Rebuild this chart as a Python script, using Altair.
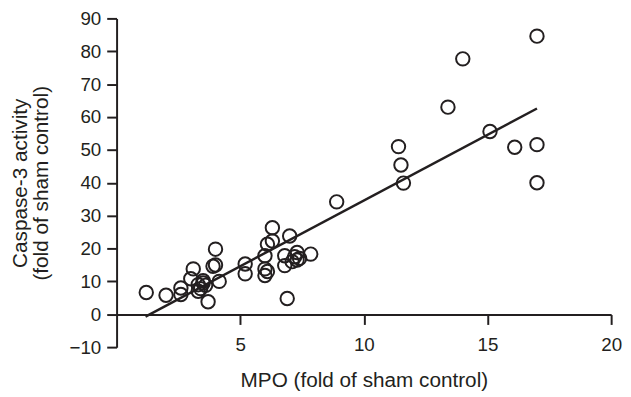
import altair as alt
import pandas as pd

# MPO (fold of sham control)
mpo = [1.2, 2.0, 2.6, 2.6, 3.0, 3.1, 3.3, 3.4, 3.5, 3.5, 3.6, 3.7, 3.9, 4.0, 4.0, 4.15, 3.3,
       5.2, 5.2, 6.0, 6.0, 6.0, 6.1, 6.3, 6.3, 6.1, 6.8, 6.8, 6.9, 7.0, 7.1, 7.2, 7.3, 7.3, 7.4, 7.85,
       8.9, 11.4, 11.5, 11.6, 13.4, 14.0, 15.1, 16.1, 17.0, 17.0, 17.0]
# Caspase-3 activity (fold of sham control)
casp = [6.6, 5.8, 8.0, 6.0, 10.8, 13.8, 9.0, 7.8, 9.5, 10.2, 8.8, 3.8, 14.6, 15.0, 19.8, 10.0, 7.0,
        15.3, 12.3, 17.8, 13.8, 11.8, 21.3, 22.3, 26.3, 13.0, 17.8, 14.8, 4.8, 23.8, 16.0, 17.5, 16.5, 18.8, 17.0, 18.3,
        34.2, 51.0, 45.4, 39.9, 63.0, 77.7, 55.6, 50.8, 84.6, 51.6, 40.0]

# regression line end points
line_x = [1.17, 17.0]
line_y = [-0.7, 62.6]

df = pd.concat([
    pd.DataFrame({"mpo": mpo, "casp": casp, "kind": "point"}),
    pd.DataFrame({"mpo": line_x, "casp": line_y, "kind": "fit"}),
], ignore_index=True)

INK = "#231f20"
FONT = "Liberation Sans"

xs = alt.Scale(domain=[0, 20], nice=False, zero=False)
ys = alt.Scale(domain=[-10, 90], nice=False, zero=False)

xaxis = alt.Axis(values=[5, 10, 15, 20], title="MPO (fold of sham control)", offset=-33,
                 labelPadding=11, titlePadding=16)
yaxis = alt.Axis(values=list(range(-10, 100, 10)), title=["Caspase-3 activity", "(fold of sham control)"],
                 labelPadding=6, titlePadding=18, titleLineHeight=21)

base = alt.Chart(df).encode(
    x=alt.X("mpo:Q", scale=xs, axis=xaxis),
    y=alt.Y("casp:Q", scale=ys, axis=yaxis),
)

points = base.transform_filter(alt.datum.kind == "point").mark_point(
    shape="circle", filled=False, size=185, strokeWidth=2, color=INK, opacity=1)

line = base.transform_filter(alt.datum.kind == "fit").mark_line(color=INK, strokeWidth=2.5)

chart = alt.layer(points, line).properties(
    width=501, height=333,
    autosize="none",
    padding={"left": 110, "top": 8, "right": 12, "bottom": 50},
).configure_view(stroke=None).configure_axis(
    tickSize=10, tickWidth=2, domainWidth=2, grid=False,
    domainColor=INK, tickColor=INK, labelColor=INK, titleColor=INK,
    labelFontSize=19, titleFontSize=21, labelFont=FONT, titleFont=FONT,
    titleFontWeight="normal", labelFlush=False, labelOverlap=False,
)

chart.save("out.html", embed_options={"renderer": "svg", "actions": False})
